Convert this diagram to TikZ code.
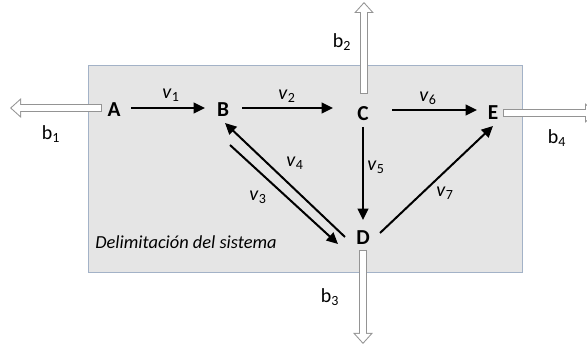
\documentclass[tikz,border=0pt]{standalone}
\usepackage{fontspec}
\setmainfont{Carlito}
\usepackage{tikz}
\usetikzlibrary{arrows.meta,calc}
\definecolor{sysfill}{rgb}{0.90,0.90,0.90}
\definecolor{sysline}{rgb}{0.64,0.70,0.78}
\definecolor{flowgray}{rgb}{0.58,0.58,0.58}
\newcommand{\vflow}[1]{\textit{v}\textsubscript{#1}}
\newcommand{\bflow}[1]{b\textsubscript{#1}}

\begin{document}
\begin{tikzpicture}[x=0.75pt,y=-0.75pt,
   st/.style={font=\fontsize{16}{18}\selectfont\bfseries,inner sep=0pt},
   lab/.style={font=\fontsize{15}{17}\selectfont,inner sep=0pt},
   fl/.style={line width=1.5pt,-{Triangle[length=8.5pt,width=8pt]}},
   ext/.style={line width=6pt,draw=flowgray,-{Triangle[length=8.25pt,width=14.25pt]},
     postaction={draw=white,line width=4.5pt,-{Triangle[length=6.35pt,width=11pt]},
       shorten >=1.15pt,shorten <=0.75pt}}]
  \useasboundingbox (0,0) rectangle (587,346);
  \node[draw=sysline,fill=sysfill,line width=0.8pt,minimum width=325.5pt,minimum height=155.25pt,
        anchor=north west] (sys) at (88,65) {};
  \node[font=\fontsize{13.8}{15}\selectfont\itshape,inner sep=0pt] (lim) at (186,242) {Delimitación del sistema};
  % estados
  \node[st] (A) at (114,110) {A};
  \node[st] (B) at (223,110) {B};
  \node[st] (C) at (363,114) {C};
  \node[st] (D) at (363,238) {D};
  \node[st] (E) at (493,113) {E};
  % salidas
  \coordinate (b1end) at (10,108);
  \coordinate (b2end) at (364,2);
  \coordinate (b3end) at (363,344);
  \coordinate (b4end) at (596,113);
  \draw[ext] ($(A)+(-12,-2)$) -- (b1end);
  \draw[ext] ($(C)+(1,-20)$) -- (b2end);
  \draw[ext] ($(D)+(0,12)$) -- (b3end);
  \draw[ext] ($(E)+(10,0)$) -- (b4end);
  % flujos
  \draw[fl] ($(A)+(17,-2)$) -- ($(B)+(-18,-2)$);
  \draw[fl] ($(B)+(19,-2)$) -- ($(C)+(-30,-6)$);
  \draw[fl] ($(C)+(29,-4)$) -- ($(E)+(-16,-3)$);
  \draw[fl] ($(C)+(0,13)$) -- ($(D)+(0,-18)$);
  \draw[fl] ($(D)+(17,-5)$) -- ($(E)+(0,13)$);
  \draw[fl] ($(D)+(-18,-1)$) -- ($(B)+(2,13)$);
  \draw[fl] ($(B)+(7,35)$) -- ($(D)+(-25,6)$);
  % etiquetas
  \node[lab] (v1) at (171,95) {\vflow{1}};
  \node[lab] (v2) at (287,96) {\vflow{2}};
  \node[lab] (v3) at (258,197) {\vflow{3}};
  \node[lab] (v4) at (295,163) {\vflow{4}};
  \node[lab] (v5) at (376,167) {\vflow{5}};
  \node[lab] (v6) at (428,98) {\vflow{6}};
  \node[lab] (v7) at (445,193) {\vflow{7}};
  \node[lab] (b1) at (51,134) {\bflow{1}};
  \node[lab] (b2) at (342,42) {\bflow{2}};
  \node[lab] (b3) at (330,297) {\bflow{3}};
  \node[lab] (b4) at (557,138) {\bflow{4}};
\end{tikzpicture}
\end{document}
